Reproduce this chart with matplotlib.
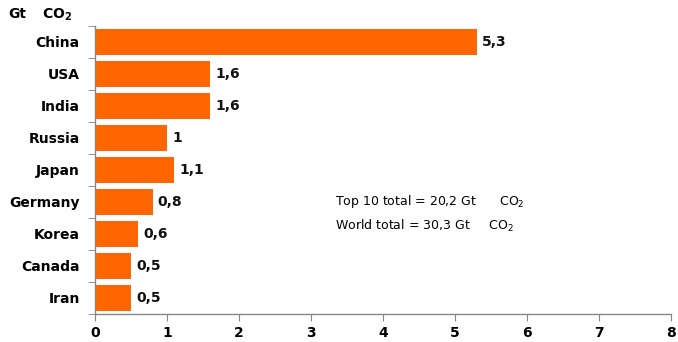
import matplotlib.pyplot as plt

# CO2 emissions by country, Gt CO2
countries = ['China', 'USA', 'India', 'Russia', 'Japan', 'Germany', 'Korea', 'Canada', 'Iran']
emissions = [5.3, 1.6, 1.6, 1.0, 1.1, 0.8, 0.6, 0.5, 0.5]
x_ticks = [0, 1, 2, 3, 4, 5, 6, 7, 8]

bar_color = '#FF6600'
axis_color = '#878787'

fig = plt.figure(figsize=(6.78, 3.42), dpi=100)
ax = fig.add_axes([0.140, 0.082, 0.850, 0.842])

y = list(range(len(countries)))
ax.barh(y, emissions, height=0.8, color=bar_color, zorder=2)

for yi, v in zip(y, emissions):
    ax.text(v + 0.07, yi, f'{v:g}'.replace('.', ','), va='center', ha='left',
            fontsize=10, fontweight='bold', color='#111111')

ax.set_ylim(len(countries) - 0.5, -0.5)
ax.set_xlim(0, 8)
ax.set_yticks(y)
ax.set_yticklabels(countries, fontsize=10, fontweight='bold')
ax.set_xticks(x_ticks)
ax.set_xticklabels([str(t) for t in x_ticks], fontsize=10, fontweight='bold')

# tick marks sit between the categories, labels stay centred
ax.set_yticks([i - 0.5 for i in range(len(countries) + 1)], minor=True)
ax.tick_params(axis='y', which='major', length=0, pad=11)
ax.tick_params(axis='y', which='minor', length=5, direction='out', color=axis_color)
ax.tick_params(axis='x', length=5, direction='out', color=axis_color, pad=4)

for side in ['top', 'right']:
    ax.spines[side].set_visible(False)
for side in ['left', 'bottom']:
    ax.spines[side].set_color(axis_color)
    ax.spines[side].set_linewidth(1.0)

fig.text(0.012, 0.958, 'Gt', fontsize=10, fontweight='bold', va='center')
fig.text(0.062, 0.958, r'CO$_\mathbf{2}$', fontsize=10, fontweight='bold', va='center')

ax.text(3.33, 5.0, r'Top 10 total = 20,2 Gt      CO$_2$', fontsize=9, va='center')
ax.text(3.33, 5.75, r'World total = 30,3 Gt     CO$_2$', fontsize=9, va='center')

fig.savefig('out.png', dpi=100, facecolor='white')
